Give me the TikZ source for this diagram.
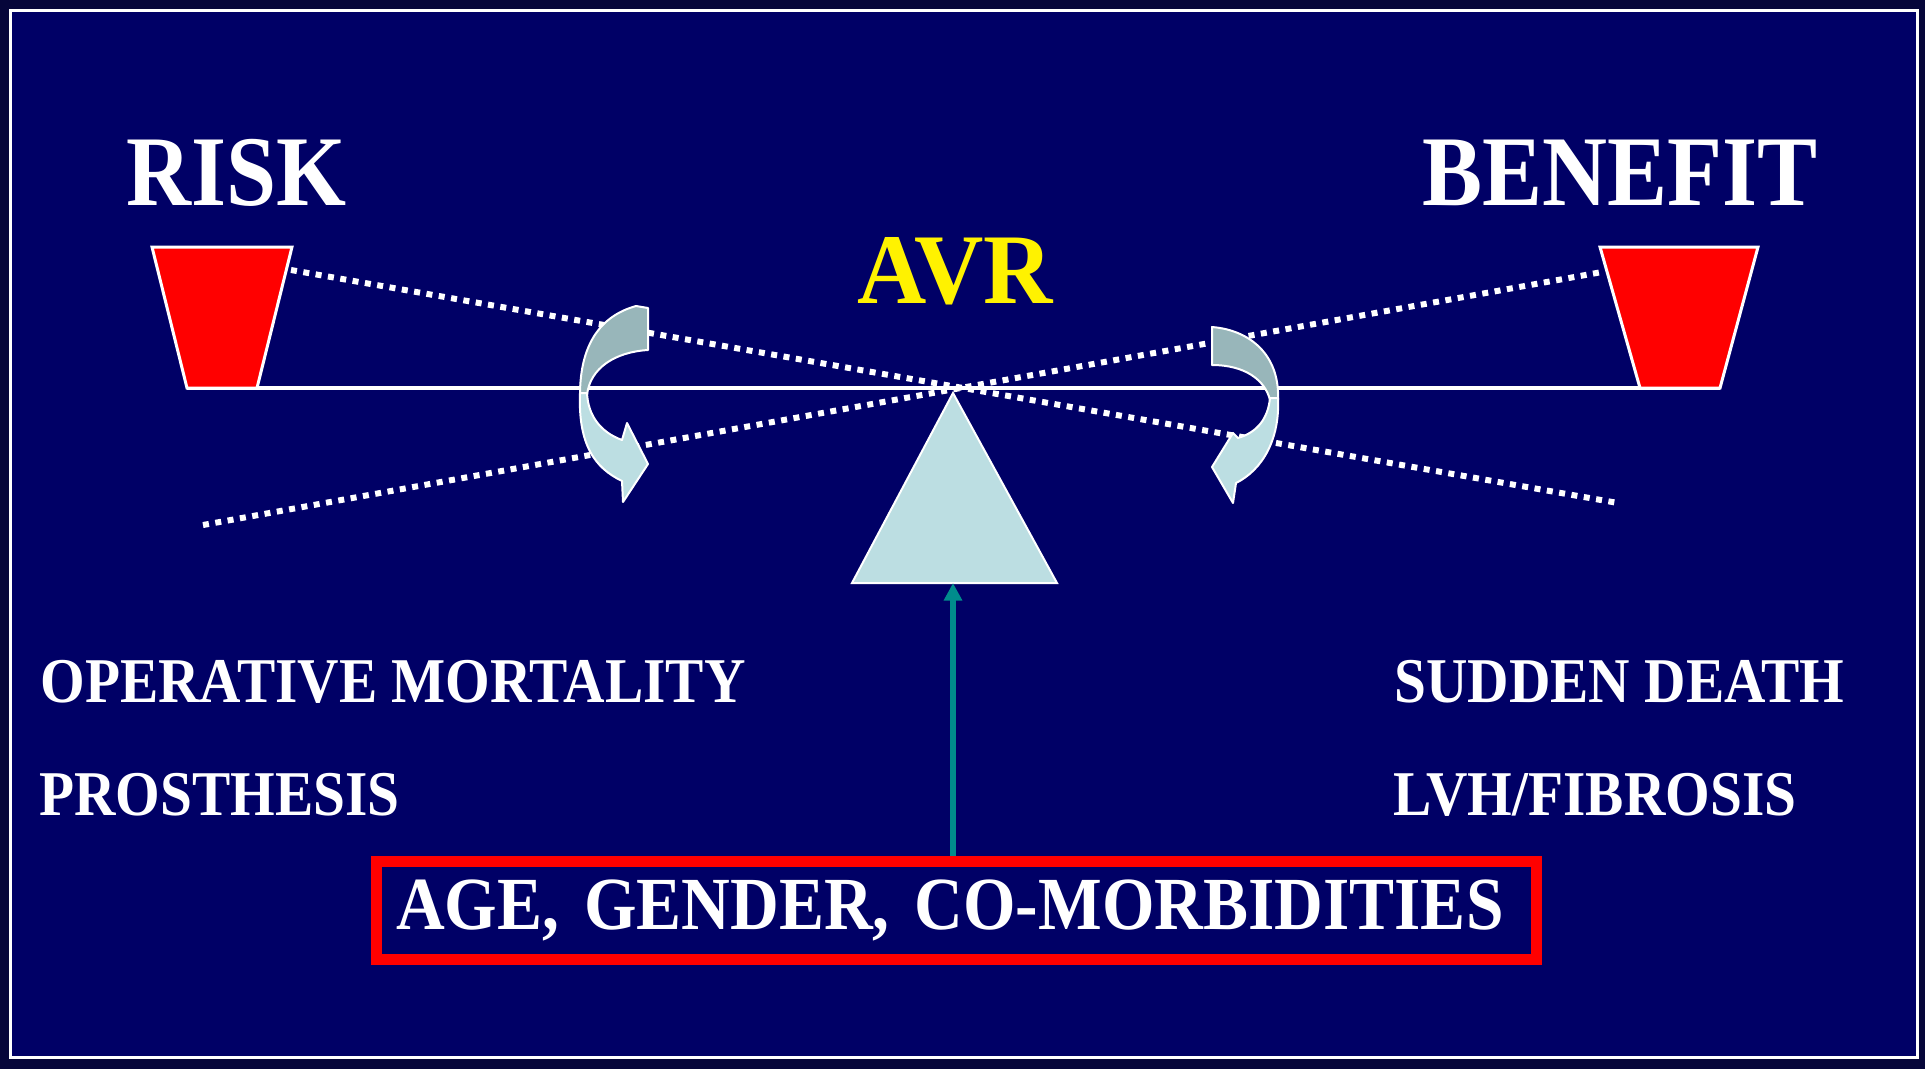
\documentclass[tikz,border=0pt]{standalone}
\usepackage{fontspec}
\newfontfamily\slidefont[FakeStretch=0.9]{Liberation Serif}
\newfontfamily\avrfont[FakeStretch=0.96]{Liberation Serif}
\usetikzlibrary{arrows.meta}

\definecolor{slidenavy}{RGB}{0,0,102}
\definecolor{slidedark}{RGB}{6,6,58}
\definecolor{ribbonback}{RGB}{152,182,186}
\definecolor{ribbonfront}{RGB}{188,222,226}
\definecolor{pivotteal}{RGB}{0,140,140}

\begin{document}
\begin{tikzpicture}[x=0.4pt,y=0.4pt,yscale=-1,xscale=1,
  dotline/.style={draw=white, line width=2.4pt, dash pattern=on 2.4pt off 2.6pt},
  bucket/.style={fill=red, draw=white, line width=1.2pt, line join=miter},
  ribbon/.style={draw=white, line width=0.8pt, line join=round},
  heading/.style={text=white, inner sep=0pt, anchor=base west, font=\slidefont\bfseries\fontsize{40}{48}\selectfont},
  item/.style={text=white, inner sep=0pt, anchor=base west, font=\slidefont\bfseries\fontsize{25.5}{30}\selectfont}]
%set diagram size to the slide
\useasboundingbox (0,0) rectangle (1925,1069);
\fill[slidedark] (0,0) rectangle (1925,1069);
%Shape: Rectangle [slide frame]
\draw[white, line width=1.2pt, fill=slidenavy] (10,10) rectangle (1917,1057);

%Coordinates of the beam
\coordinate (beamL) at (187,388);
\coordinate (beamR) at (1720,388);
\coordinate (tip) at (953,393);
\coordinate (base) at (953,583);

%Straight Lines [beam]
\draw[white, line width=1.6pt] (beamL) -- (beamR);
%Dotted Lines [tilted beams]
\draw[dotline] (291,270) -- (1618,503);
\draw[dotline] (203,525) -- (1602,272);

%Shape: Trapezium [left bucket]
\draw[bucket] (152,247) -- (292,247) -- (257,388) -- (beamL) -- cycle;
%Shape: Trapezium [right bucket]
\draw[bucket] (1600,247) -- (1758,247) -- (beamR) -- (1640,388) -- cycle;

%Shape: Curved Arrow [left]
\draw[ribbon, fill=ribbonback] (636,306) -- (648,308) -- (648,350) .. controls (615,352) and (590,368) .. (587,395) -- (580,395) .. controls (580,345) and (600,316) .. (636,306) -- cycle;
\draw[ribbon, fill=ribbonfront] (580,393) .. controls (578,445) and (595,468) .. (622,481) -- (623,502) -- (648,464) -- (627,423) -- (622,440) .. controls (600,432) and (588,415) .. (587,393) -- cycle;
%Shape: Curved Arrow [right]
\draw[ribbon, fill=ribbonback] (1212,327) .. controls (1250,330) and (1280,355) .. (1278,400) -- (1270,400) .. controls (1265,380) and (1245,365) .. (1212,365) -- cycle;
\draw[ribbon, fill=ribbonfront] (1278,398) .. controls (1280,440) and (1262,470) .. (1236,483) -- (1233,503) -- (1212,467) -- (1233,433) -- (1238,438) .. controls (1258,432) and (1268,418) .. (1270,398) -- cycle;

%Shape: Triangle [fulcrum]
\draw[draw=white, line width=0.8pt, fill=ribbonfront] (tip) -- (1057,583) -- (852,583) -- cycle;

%Text
\node[heading] (risk) at (126,205) {RISK};
\node[heading] (benefit) at (1422,205) {BENEFIT};
\node[heading, text=yellow, font=\avrfont\bfseries\fontsize{40}{48}\selectfont] (avr) at (857,303) {AVR};
\node[item] (mortality) at (40,702) {OPERATIVE MORTALITY};
\node[item] (prosthesis) at (39,815) {PROSTHESIS};
\node[item] (death) at (1394,702) {SUDDEN DEATH};
\node[item] (fibrosis) at (1393,815) {LVH/FIBROSIS};

%Shape: Rectangle [factors]
\node[draw=red, line width=4.4pt, text=white, anchor=base west, inner ysep=0pt, inner xsep=8pt,
  text width=448pt, align=left, text height=27.2pt, text depth=12pt,
  font=\slidefont\bfseries\fontsize{30}{36}\selectfont] (factors) at (370.5,929) {AGE, GENDER, CO-MORBIDITIES};

%Straight Lines [pivot arrow]
\draw[pivotteal, line width=2.2pt, -{Triangle[length=7pt,width=7pt]}] (factors.north -| base) -- (base);

\end{tikzpicture}
\end{document}
